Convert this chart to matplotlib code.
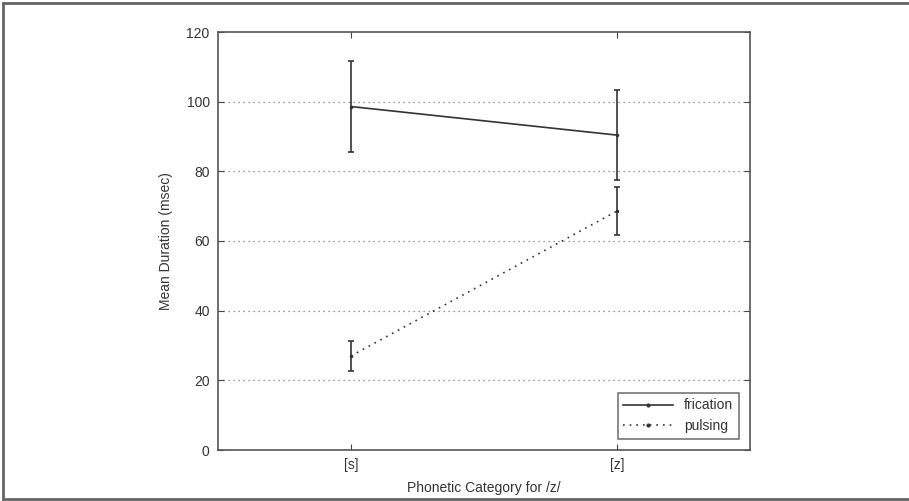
import matplotlib
matplotlib.use('Agg')
import matplotlib.pyplot as plt
from matplotlib.lines import Line2D

plt.rcParams['font.family'] = ['Liberation Sans', 'DejaVu Sans']

categories = ['[s]', '[z]']
fricationMean = [98.6, 90.4]
fricationErr = [13.0, 13.0]
pulsingMean = [27.0, 68.6]
pulsingErr = [4.4, 7.0]
yTicks = [0, 20, 40, 60, 80, 100, 120]

W, H = 909, 501
fig = plt.figure(figsize=(W / 100.0, H / 100.0), dpi=100)
ax = fig.add_axes([218.0 / W, 1 - 450.0 / H, 532.0 / W, 418.0 / H])

xs = [1, 2]
lineColor = '#333333'
dotted = (0, (1, 3))

for y in yTicks[1:-1]:
  ax.axhline(y, color='#777777', linestyle=dotted, linewidth=0.9, zorder=0)

ax.errorbar(xs, fricationMean, yerr=fricationErr, color=lineColor, linestyle='-',
            linewidth=1.2, marker='.', markersize=3, capsize=2.5, elinewidth=1.2,
            capthick=1.2)
ax.errorbar(xs, pulsingMean, yerr=pulsingErr, color=lineColor, linestyle=dotted,
            linewidth=1.2, marker='.', markersize=3, capsize=2.5, elinewidth=1.2,
            capthick=1.2)

ax.set_xlim(0.5, 2.5)
ax.set_ylim(0, 120)
ax.set_xticks(xs)
ax.set_xticklabels(categories)
ax.set_yticks(yTicks)
ax.tick_params(direction='in', length=4, color='#444444', labelcolor='#333333',
               labelsize=10, top=True, right=True, pad=6)
for spine in ax.spines.values():
  spine.set_color('#555555')
  spine.set_linewidth(1.2)

ax.set_xlabel('Phonetic Category for /z/', fontsize=10, color='#333333', labelpad=6)
ax.set_ylabel('Mean Duration (msec)', fontsize=10, color='#333333', labelpad=10)

handles = [
  Line2D([0], [0], color=lineColor, linestyle='-', linewidth=1.2, marker='.', markersize=4),
  Line2D([0], [0], color=lineColor, linestyle=dotted, linewidth=1.2, marker='.', markersize=4),
]
leg = ax.legend(handles, ['frication', 'pulsing'], loc='lower right', fontsize=10,
                frameon=True, fancybox=False, edgecolor='#555555', borderaxespad=0.8,
                handlelength=3.6, labelspacing=0.5, borderpad=0.4, markerfirst=True)
leg.get_frame().set_linewidth(1.2)
for t in leg.get_texts():
  t.set_color('#333333')

# outer frame of the figure (right side cropped)
borderColor = '#666666'
fig.add_artist(Line2D([3.0 / W, 3.0 / W], [1 - 3.0 / H, 1 - 499.0 / H], color=borderColor, linewidth=2))
fig.add_artist(Line2D([3.0 / W, 1.0], [1 - 3.0 / H, 1 - 3.0 / H], color=borderColor, linewidth=2))
fig.add_artist(Line2D([3.0 / W, 1.0], [1 - 499.0 / H, 1 - 499.0 / H], color=borderColor, linewidth=2))

fig.savefig('out.png', dpi=100)
